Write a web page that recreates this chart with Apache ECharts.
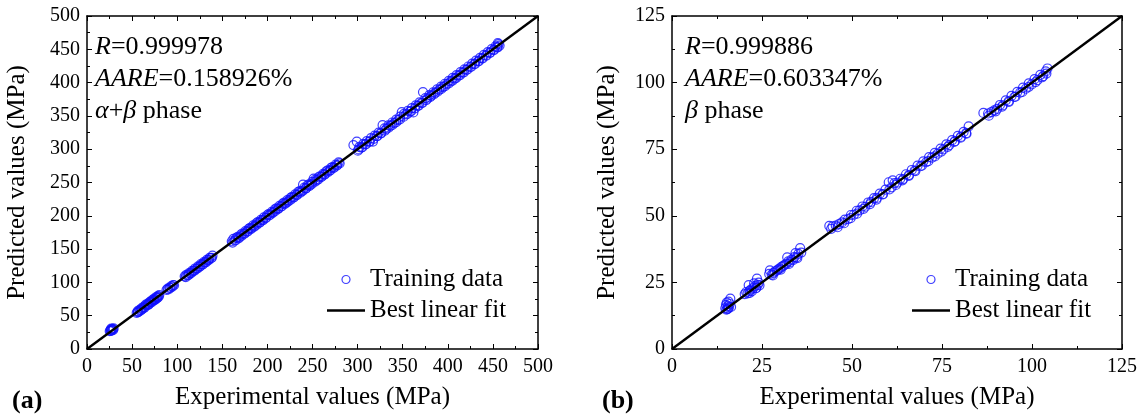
<!DOCTYPE html>
<html>
<head>
<meta charset="utf-8">
<script src="https://cdn.jsdelivr.net/npm/echarts@6/dist/echarts.min.js"></script>
<style>
html,body{margin:0;padding:0;background:#fff;}
#chart{width:1142px;height:419px;}
</style>
</head>
<body>
<div id="chart"></div>
<script>
// ---- Data ----
// Panel (a): alpha+beta phase, [experimental, predicted] in MPa
const trainA = [
  [25.2,26.8],[26.0,28.5],[26.5,27.2],[27.1,29.4],[27.8,28.1],[28.4,30.2],[29.0,28.6],[29.5,30.9],[26.8,30.6],
  [55.1,54.3],[56.2,56.9],[57.0,55.8],[58.3,58.9],[59.1,57.6],[60.4,61.2],[61.2,60.0],[62.5,63.1],[63.3,61.9],
  [64.6,65.3],[65.2,66.8],[66.7,65.9],[67.4,68.2],[68.8,67.5],[69.5,70.4],[70.7,71.5],[71.9,70.6],[72.6,73.8],
  [73.8,72.9],[74.5,75.7],[75.9,74.6],[76.7,77.8],[77.5,76.3],[78.6,79.4],[79.4,78.5],[80.1,81.0],
  [56.5,55.2],[60.0,58.7],[63.8,62.4],[67.9,66.3],[71.2,69.8],[74.9,73.4],[78.1,76.9],
  [88.2,88.9],[89.5,90.6],[90.3,89.4],[91.6,92.3],[92.4,91.7],[93.5,94.6],[94.6,93.8],[95.4,96.1],[96.5,95.7],
  [108.3,109.1],[110.1,111.4],[111.6,110.5],[113.2,114.0],[114.7,113.6],[116.5,117.3],[118.0,117.2],[119.8,120.9],
  [121.3,120.4],[123.1,124.0],[124.6,123.3],[126.2,127.4],[127.9,126.8],[129.5,130.3],[131.0,130.2],[132.8,133.9],
  [134.3,133.5],[135.9,136.8],[137.5,136.4],[139.1,140.2],
  [109.5,108.0],[112.8,111.3],[115.9,114.6],[119.2,117.7],[122.5,121.0],[125.6,124.3],[128.8,127.3],[132.1,130.6],
  [135.2,133.9],[138.4,137.0],
  [160.5,161.8],[162.3,165.4],[163.8,162.9],[165.4,166.8],[167.1,168.5],[168.9,167.7],[170.6,171.9],[172.2,173.4],
  [174.0,172.8],[175.7,177.1],[177.3,176.2],[179.1,180.4],[180.8,181.9],[182.4,181.3],[184.2,185.6],[186.0,184.9],
  [187.6,188.8],[189.3,190.5],[191.0,189.7],[192.7,194.0],[194.4,193.3],[196.1,197.5],[197.8,196.5],[199.6,200.8],
  [201.3,202.4],[203.0,201.7],[204.8,206.1],[206.5,205.4],[208.2,209.6],[210.0,211.2],[211.7,210.4],[213.4,214.8],
  [215.2,214.0],[216.9,218.3],[218.6,219.7],[220.4,219.1],[222.1,223.5],[223.8,222.7],[225.6,226.9],[227.3,228.5],
  [229.0,227.6],[230.8,232.1],[232.5,231.3],[234.2,235.8],[236.0,237.1],[237.7,236.4],[239.5,246.8],[240.9,242.3],
  [242.6,241.2],[244.4,245.7],[246.1,247.3],[247.9,246.5],[249.6,251.0],[251.3,255.9],[253.1,254.2],[254.8,253.4],
  [256.5,257.9],[258.3,259.4],[260.0,258.7],[261.8,263.1],[263.5,262.2],[265.2,266.6],[267.0,268.3],[268.7,267.4],
  [270.5,271.9],[272.2,273.3],[273.9,272.6],[275.7,277.0],[277.4,276.3],[279.0,280.2],
  [161.4,159.8],[164.6,163.1],[168.0,166.2],[171.4,169.9],[174.9,173.5],[178.2,176.6],[181.6,180.1],[185.1,183.4],
  [188.4,186.9],[191.8,190.2],[195.3,193.6],[198.6,197.1],[202.0,200.5],[205.5,203.9],[208.8,207.2],[212.2,210.8],
  [215.7,214.1],[219.0,217.5],[222.4,221.0],[225.9,224.2],[229.2,227.7],[232.6,231.1],[236.1,234.4],[239.4,237.9],
  [242.8,241.3],[246.3,244.6],[249.6,248.1],[253.0,251.4],[256.5,254.8],[259.8,258.3],[263.2,261.7],[266.7,265.0],
  [270.0,268.5],[273.4,271.9],[276.9,275.2],[280.1,278.8],
  [295.4,306.2],[299.1,311.5],[300.3,297.8],[302.0,303.6],[304.1,302.5],[306.3,308.0],[308.5,307.1],[310.2,312.0],
  [312.6,311.2],[314.8,316.5],[317.0,311.4],[318.9,320.3],[321.1,319.5],[323.4,325.0],[325.5,324.1],[327.7,336.0],
  [329.8,331.2],[331.9,330.4],[334.1,335.8],[336.3,334.9],[338.4,340.1],[340.6,339.2],[342.8,344.3],[344.9,343.5],
  [347.1,348.8],[349.0,355.8],[351.4,352.9],[353.6,352.1],[355.7,357.4],[357.9,356.4],[360.1,361.8],[361.8,355.2],
  [364.4,365.9],[366.5,365.1],[368.7,370.2],[370.8,369.4],[372.5,385.8],[375.2,376.7],[377.3,375.9],[379.5,381.1],
  [381.6,380.2],[383.8,385.3],[386.0,384.5],[388.1,389.7],[390.3,388.9],[392.5,394.0],[394.6,393.2],[396.8,398.3],
  [398.9,397.5],[401.1,402.7],[403.3,401.8],[405.4,407.0],[407.6,406.1],[409.7,411.3],[411.9,410.4],[414.1,415.6],
  [416.2,414.8],[418.4,420.0],[420.5,419.1],[422.7,424.2],[424.9,423.4],[427.0,428.6],[429.2,427.7],[431.3,432.9],
  [433.5,432.0],[435.7,437.2],[437.8,436.4],[440.0,441.5],[442.1,440.7],[444.3,445.9],[446.5,445.0],[448.6,450.2],
  [450.8,449.3],[452.9,454.5],[454.6,453.0],[456.2,457.8],[455.5,459.3],
  [301.2,299.6],[305.3,303.1],[309.4,307.5],[313.6,311.4],[317.8,315.6],[321.9,319.7],[326.1,323.9],[330.3,328.0],
  [334.4,332.3],[338.6,336.4],[342.8,340.5],[346.9,344.7],[351.1,348.8],[355.3,353.0],[359.4,357.2],[363.6,361.3],
  [367.8,365.5],[371.9,369.7],[376.1,373.8],[380.3,378.0],[384.4,382.2],[388.6,386.3],[392.8,390.5],[396.9,394.7],
  [401.1,398.8],[405.3,403.0],[409.4,407.2],[413.6,411.3],[417.8,415.5],[421.9,419.7],[426.1,423.8],[430.3,428.0],
  [434.4,432.2],[438.6,436.3],[442.8,440.5],[446.9,444.7],[451.1,448.8],[455.3,453.0],[457.4,455.6]
];
// Panel (b): beta phase
const trainB = [
  [14.8,15.3],[15.0,16.6],[15.2,17.4],[15.4,15.0],[15.5,16.1],[15.7,17.8],[15.8,15.6],[16.0,16.9],[16.2,18.9],[16.4,15.8],[15.1,14.8],
  [15.6,15.2],
  [20.2,20.6],[20.6,21.4],[21.0,20.9],[21.3,24.0],[21.5,21.8],[21.9,22.3],[22.2,21.7],[22.6,22.9],[23.0,23.6],[23.3,22.8],
  [23.6,26.4],[23.8,24.1],[24.1,24.9],[24.3,23.9],[22.8,24.6],[21.6,21.1],[23.4,22.9],
  [27.0,28.2],[27.2,29.5],[27.7,27.9],[28.2,28.6],[28.6,29.1],[29.1,29.4],[29.5,29.9],[30.0,30.3],[30.4,30.8],[30.9,31.2],
  [31.3,31.6],[31.8,32.0],[32.0,34.4],[32.3,32.9],[32.7,32.5],[33.2,33.6],[33.6,33.4],[34.0,34.5],[34.3,36.0],[34.6,34.4],
  [35.1,35.7],[35.6,37.9],[35.9,36.2],[28.0,27.6],[30.2,29.8],[32.5,31.9],[34.8,34.1],
  [43.7,46.2],[44.6,46.0],[45.5,46.3],[46.4,46.9],[47.2,47.5],[48.0,48.6],[48.9,48.7],[49.7,50.3],[50.5,50.4],[51.3,51.9],
  [52.1,52.0],[52.9,53.5],[53.7,53.4],[54.5,55.0],[55.3,55.2],[56.1,56.6],[56.9,56.7],[57.7,58.3],[58.5,58.1],[59.3,59.8],
  [60.2,62.6],[61.3,63.3],[61.0,60.7],[61.8,62.3],[62.6,62.4],[63.4,63.9],[64.2,63.8],[65.0,65.6],[65.8,65.3],[66.6,67.2],
  [67.4,67.0],[68.2,68.8],[69.0,68.6],[69.8,70.4],[70.6,70.1],[71.4,72.0],[72.2,71.8],[73.0,73.6],[73.8,73.3],[74.6,75.2],
  [75.4,74.9],[76.2,76.8],[77.0,76.5],[77.8,78.4],[78.6,78.0],[79.4,80.0],[80.2,79.6],[81.0,81.5],[81.7,81.0],[82.4,83.6],
  [44.2,45.1],[46.0,45.7],[47.8,47.2],[49.6,49.1],[51.4,50.8],[53.2,52.6],[55.0,54.4],[56.8,56.1],[58.6,58.0],[60.4,59.9],
  [62.2,61.6],[64.0,63.3],[65.8,65.0],[67.6,66.8],[69.4,68.8],[71.2,70.5],[73.0,72.3],[74.8,74.1],[76.6,75.9],[78.4,77.7],
  [80.2,79.3],[81.8,80.8],
  [86.5,88.6],[87.8,88.4],[88.7,88.9],[89.5,89.6],[90.3,90.1],[91.1,91.6],[91.9,91.5],[92.7,93.3],[93.5,93.0],[94.3,95.0],
  [95.1,94.6],[95.9,96.5],[96.7,96.2],[97.5,98.1],[98.3,97.7],[99.1,99.7],[99.9,99.3],[100.7,101.3],[101.5,100.9],
  [102.3,102.9],[103.1,102.4],[103.8,104.2],[104.3,105.3],
  [88.0,87.6],[89.9,89.2],[91.7,91.0],[93.6,92.8],[95.4,94.7],[97.3,96.5],[99.1,98.4],[101.0,100.2],[102.8,102.0],[104.0,103.4]
];
const fitA = [[0,0],[500,500]];
const fitB = [[0,0],[125,125]];
const axisA = {min:0, max:500, interval:50};
const axisB = {min:0, max:125, interval:25};
const statsA = ['R', '0.999978', 'AARE', '0.158926%'];
const statsB = ['R', '0.999886', 'AARE', '0.603347%'];
const panelLabels = ['(a)', '(b)'];
const xTitle = 'Experimental values (MPa)';
const yTitle = 'Predicted values (MPa)';
const seriesNames = ['Training data', 'Best linear fit'];

// ---- Chart ----
const FONT = "'Liberation Serif', 'Times New Roman', serif";
const chart = echarts.init(document.getElementById('chart'), null, {renderer: 'canvas'});

function mkX(grid, rng, main) {
  return {
    type:'value', gridIndex:grid, min:rng.min, max:rng.max, interval:rng.interval,
    position: main ? 'bottom' : 'top',
    name: main ? xTitle : '', nameLocation:'middle', nameGap:36,
    nameTextStyle:{fontFamily:FONT, fontSize:25, color:'#000'},
    axisLine:{show:true, onZero:false, lineStyle:{color:'#000', width:1.5}},
    axisTick:{show:true, inside:true, length:5, lineStyle:{color:'#000', width:1}},
    minorTick:{show:true, splitNumber:2, length:3, lineStyle:{color:'#000', width:1}},
    axisLabel:{show:main, margin:8, fontFamily:FONT, fontSize:20, color:'#000'},
    splitLine:{show:false}
  };
}
function mkY(grid, rng, main, gap) {
  return {
    type:'value', gridIndex:grid, min:rng.min, max:rng.max, interval:rng.interval,
    position: main ? 'left' : 'right',
    name: main ? yTitle : '', nameLocation:'middle', nameGap:gap, nameRotate:90,
    nameTextStyle:{fontFamily:FONT, fontSize:25, color:'#000'},
    axisLine:{show:true, onZero:false, lineStyle:{color:'#000', width:1.5}},
    axisTick:{show:true, inside:true, length:5, lineStyle:{color:'#000', width:1}},
    minorTick:{show:true, splitNumber:2, length:3, lineStyle:{color:'#000', width:1}},
    axisLabel:{show:main, margin:7, fontFamily:FONT, fontSize:20, color:'#000'},
    splitLine:{show:false}
  };
}

const scatterStyle = {color:'rgba(0,0,0,0)', borderColor:'#1010ff', borderWidth:1.2};

function statText(s, phase) {
  return '{i|' + s[0] + '}=' + s[1] + '\n{i|' + s[2] + '}=' + s[3] + '\n' + phase;
}
const richStyle = {i:{fontStyle:'italic', fontFamily:FONT, fontSize:26, color:'#000', lineHeight:32}};

function legendFor(left) {
  return {
    orient:'vertical', left:left, top:262, itemGap:6, itemWidth:38, itemHeight:8,
    symbolKeepAspect:true,
    textStyle:{fontFamily:FONT, fontSize:25, color:'#000'},
    data:[
      {name:seriesNames[0], icon:'circle', itemStyle:scatterStyle},
      {name:seriesNames[1], icon:'path://M0,0h38v2.6h-38z', itemStyle:{color:'#000', borderWidth:0}}
    ],
    selectedMode:false
  };
}

const option = {
  animation:false,
  backgroundColor:'#fff',
  grid:[
    {left:87, top:16, width:451, height:333},
    {left:672, top:16, width:450, height:333}
  ],
  xAxis:[mkX(0, axisA, true), mkX(0, axisA, false), mkX(1, axisB, true), mkX(1, axisB, false)],
  yAxis:[mkY(0, axisA, true, 57), mkY(0, axisA, false, 0), mkY(1, axisB, true, 52), mkY(1, axisB, false, 0)],
  title:[
    {text:statText(statsA, '{i|α}+{i|β} phase'), left:95, top:31, padding:0,
     textStyle:{fontFamily:FONT, fontSize:26, fontWeight:'normal', color:'#000', lineHeight:32, rich:richStyle}},
    {text:statText(statsB, '{i|β} phase'), left:685, top:31, padding:0,
     textStyle:{fontFamily:FONT, fontSize:26, fontWeight:'normal', color:'#000', lineHeight:32, rich:richStyle}},
    {text:panelLabels[0], left:12, top:388, padding:0,
     textStyle:{fontFamily:FONT, fontSize:26, fontWeight:'bold', color:'#000'}},
    {text:panelLabels[1], left:602, top:388, padding:0,
     textStyle:{fontFamily:FONT, fontSize:26, fontWeight:'bold', color:'#000'}}
  ],
  legend:[legendFor(322), legendFor(907)],
  series:[
    {name:seriesNames[0], type:'scatter', xAxisIndex:0, yAxisIndex:0, data:trainA,
     symbol:'circle', symbolSize:9, itemStyle:scatterStyle, z:2},
    {name:seriesNames[1], type:'line', xAxisIndex:0, yAxisIndex:0, data:fitA,
     symbol:'none', lineStyle:{color:'#000', width:2.4}, itemStyle:{color:'#000'}, z:3},
    {name:seriesNames[0], type:'scatter', xAxisIndex:2, yAxisIndex:2, data:trainB,
     symbol:'circle', symbolSize:9, itemStyle:scatterStyle, z:2},
    {name:seriesNames[1], type:'line', xAxisIndex:2, yAxisIndex:2, data:fitB,
     symbol:'none', lineStyle:{color:'#000', width:2.4}, itemStyle:{color:'#000'}, z:3}
  ]
};
chart.setOption(option);
</script>
</body>
</html>
